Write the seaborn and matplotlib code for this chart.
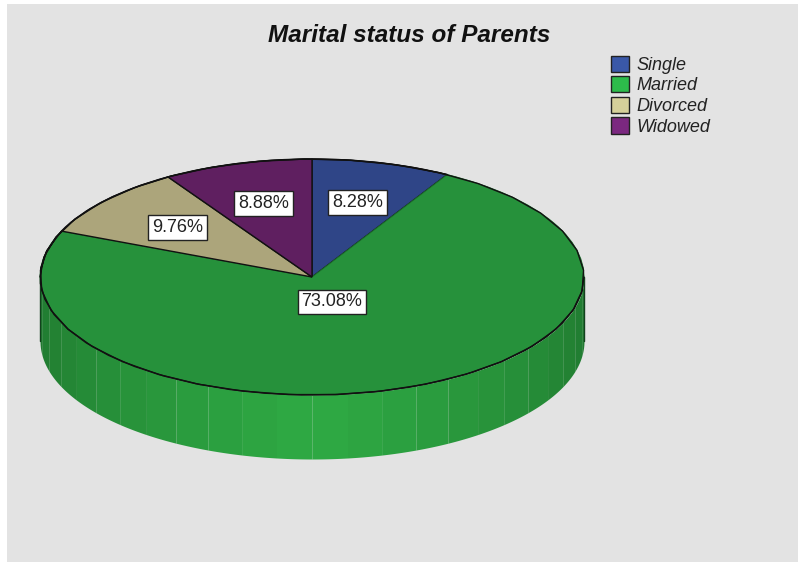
import matplotlib.pyplot as plt
import numpy as np
import seaborn as sns
from matplotlib.patches import Patch

categories = ["Single", "Married", "Divorced", "Widowed"]
percentages = [8.28, 73.08, 9.76, 8.88]
top_colors = ["#2f4587", "#26913b", "#aca57b", "#5f1f60"]
legend_colors = ["#3a58a8", "#2dbb4b", "#d5d09a", "#7b2880"]

sns.set_theme(style="white")
plt.rcParams["font.family"] = ["Liberation Sans", "DejaVu Sans"]

W, H = 798, 562
# pie placement in pixels of the picture
cx, cy, rx, ry, depth = 312, 277, 272, 118, 64

fig = plt.figure(figsize=(W / 100, H / 100), dpi=100, facecolor="white")
ax = fig.add_axes([7 / W, 0, (W - 7) / W, (H - 4) / H], facecolor="#e3e3e3")

wedges, _, pct_texts = ax.pie(
    percentages,
    colors=top_colors,
    startangle=90,
    counterclock=False,
    autopct="%.2f%%",
    pctdistance=0.65,
    frame=True,
    wedgeprops={"edgecolor": "#111111", "linewidth": 1.0, "zorder": 3},
    textprops={"fontsize": 13, "color": "#222222", "zorder": 6},
)

# squash the round pie into the tilted ellipse
ax.set_aspect("auto")
ax.set_xlim((7 - cx) / rx, (W - cx) / rx)
ax.set_ylim((cy - H) / ry, (cy - 4) / ry)
ax.set_xticks([])
ax.set_yticks([])
sns.despine(ax=ax, left=True, bottom=True)

# front arc of the big slice is only a faint line in the original
wedges[1].set_edgecolor("#1c6e2d")
wedges[1].set_linewidth(0.7)
start, end = sorted([wedges[1].theta1, wedges[1].theta2])
for a, b in [(start, 180), (360, end)]:
    t = np.radians(np.linspace(a, b, 40))
    ax.plot(np.cos(t), np.sin(t), color="#111111", lw=1.0, zorder=4)

# side wall, stepped shading
d = depth / ry
steps = np.arange(180, 360, 7.5)
shades = sns.blend_palette(["#207a30", "#2ea843"], 12)
for a in steps:
    t = np.radians(np.linspace(a, a + 7.5, 12))
    off = min(abs(a + 3.75 - 270) / 90, 1)
    ax.fill_between(np.cos(t), np.sin(t), np.sin(t) - d,
                    color=shades[11 - int(off * 11.99)], lw=0, zorder=2)
for side in (-1, 1):
    ax.plot([side, side], [0, -d], color="#14401e", lw=1.0, zorder=2.5)

# labels
for txt in pct_texts:
    txt.set_bbox({"boxstyle": "square,pad=0.22", "facecolor": "white",
                  "edgecolor": "#222222", "linewidth": 1.0})
pct_texts[1].set_position(((332 - cx) / rx, (cy - 302) / ry))

fig.text(409 / W, 1 - 36 / H, "Marital status of Parents", ha="center", va="center",
         fontsize=17.5, fontweight="bold", fontstyle="italic", color="#111111")

handles = [Patch(facecolor=c, edgecolor="#222222", linewidth=1.0) for c in legend_colors]
ax.legend(
    handles,
    categories,
    loc="upper left",
    bbox_to_anchor=((607 - 7) / (W - 7), (H - 52) / (H - 4)),
    frameon=False,
    prop={"size": 13, "style": "italic"},
    labelcolor="#222222",
    handlelength=1.0,
    handleheight=1.0,
    handletextpad=0.45,
    labelspacing=0.13,
    borderpad=0.2,
    borderaxespad=0,
)

plt.savefig("out.png", dpi=100)
